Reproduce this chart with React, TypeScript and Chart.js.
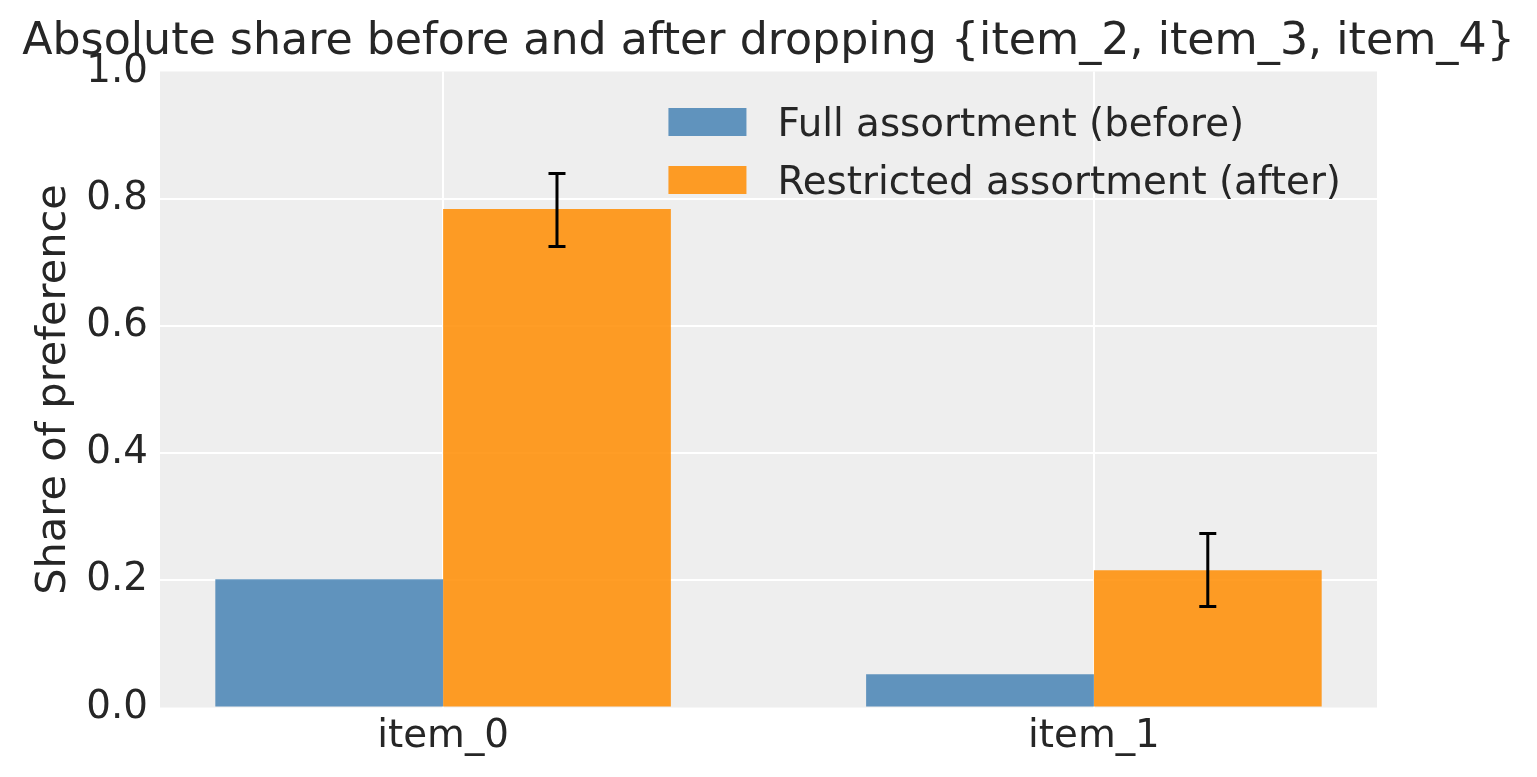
import React, { useEffect, useRef } from 'react';
import { Chart, registerables } from 'chart.js';

Chart.register(...registerables);

const titleText = 'Absolute share before and after dropping {item_2, item_3, item_4}';
const yAxisTitle = 'Share of preference';
const categories = ['item_0', 'item_1'];
const categoryPositions = [0, 1];
const seriesNames = ['Full assortment (before)', 'Restricted assortment (after)'];
const beforeShare = [0.2017, 0.0524];
const afterShare = [0.7837, 0.2159];
const afterLow = [0.7248, 0.1588];
const afterHigh = [0.8396, 0.2736];
const yTicks = [0, 0.2, 0.4, 0.6, 0.8, 1.0];
const xRange = [-0.435, 1.435];

const FONT = "'DejaVu Sans', sans-serif";
const TEXT = '#262626';
const BLUE = 'rgba(70,130,180,0.85)';
const ORANGE = 'rgba(255,140,0,0.85)';

const backgroundPlugin = {
  id: 'plotBg',
  beforeDraw(chart: any) {
    const { ctx, chartArea } = chart;
    ctx.save();
    ctx.fillStyle = '#eeeeee';
    ctx.fillRect(chartArea.left, chartArea.top, chartArea.right - chartArea.left, chartArea.bottom - chartArea.top);
    ctx.restore();
  },
};

const titlePlugin = {
  id: 'axesTitle',
  afterDraw(chart: any) {
    const { ctx, chartArea } = chart;
    ctx.save();
    ctx.font = `44.3px ${FONT}`;
    ctx.fillStyle = TEXT;
    ctx.textAlign = 'center';
    ctx.textBaseline = 'alphabetic';
    ctx.fillText(titleText, (chartArea.left + chartArea.right) / 2, chartArea.top - 17.2);
    ctx.restore();
  },
};

const errorBarPlugin = {
  id: 'errorBars',
  afterDatasetsDraw(chart: any) {
    const { ctx } = chart;
    const meta = chart.getDatasetMeta(1);
    const yScale = chart.scales.y;
    ctx.save();
    ctx.strokeStyle = '#000000';
    ctx.lineWidth = 3;
    meta.data.forEach((bar: any, i: number) => {
      const x = bar.x;
      const yLo = yScale.getPixelForValue(afterLow[i]);
      const yHi = yScale.getPixelForValue(afterHigh[i]);
      ctx.beginPath();
      ctx.moveTo(x, yLo);
      ctx.lineTo(x, yHi);
      ctx.moveTo(x - 8.5, yLo);
      ctx.lineTo(x + 8.5, yLo);
      ctx.moveTo(x - 8.5, yHi);
      ctx.lineTo(x + 8.5, yHi);
      ctx.stroke();
    });
    ctx.restore();
  },
};

const legendPlugin = {
  id: 'innerLegend',
  afterDraw(chart: any) {
    const { ctx, chartArea } = chart;
    ctx.save();
    ctx.font = `38.8px ${FONT}`;
    const widths = seriesNames.map((s) => ctx.measureText(s).width);
    const maxW = Math.max(...widths);
    const textX = chartArea.right - 36 - maxW;
    const patchW = 78;
    const patchH = 28;
    const patchX = textX - 31 - patchW;
    const colors = [BLUE, ORANGE];
    seriesNames.forEach((name, i) => {
      const top = chartArea.top + 36.5 + i * 58;
      ctx.fillStyle = colors[i];
      ctx.fillRect(patchX, top, patchW, patchH);
      ctx.fillStyle = TEXT;
      ctx.textAlign = 'left';
      ctx.textBaseline = 'alphabetic';
      ctx.fillText(name, textX, top + 27.5);
    });
    ctx.restore();
  },
};

export default function App() {
  const canvasRef = useRef<HTMLCanvasElement | null>(null);

  useEffect(() => {
    document.body.style.margin = '0';
    const canvas = canvasRef.current;
    if (!canvas) return;
    const chart = new Chart(canvas, {
      type: 'bar',
      data: {
        datasets: [
          {
            label: seriesNames[0],
            data: categoryPositions.map((x, i) => ({ x, y: beforeShare[i] })),
            backgroundColor: BLUE,
            borderWidth: 0,
          },
          {
            label: seriesNames[1],
            data: categoryPositions.map((x, i) => ({ x, y: afterShare[i] })),
            backgroundColor: ORANGE,
            borderWidth: 0,
          },
        ],
      },
      options: {
        animation: false,
        responsive: false,
        maintainAspectRatio: false,
        devicePixelRatio: 1,
        layout: { padding: { left: 0, right: 160, top: 71.5, bottom: 0 } },
        datasets: {
          bar: { categoryPercentage: 0.7, barPercentage: 1.0, grouped: true },
        },
        plugins: {
          legend: { display: false },
          tooltip: { enabled: false },
          title: { display: false },
        },
        scales: {
          x: {
            type: 'linear',
            min: xRange[0],
            max: xRange[1],
            offset: false,
            afterBuildTicks: (scale: any) => {
              scale.ticks = categoryPositions.map((v) => ({ value: v }));
            },
            afterFit: (scale: any) => {
              scale.height = 69.5;
            },
            ticks: {
              color: TEXT,
              font: { family: FONT, size: 38.8 },
              padding: 6,
              maxRotation: 0,
              autoSkip: false,
              callback: (value: any) => {
                const idx = categoryPositions.indexOf(Number(value));
                return idx >= 0 ? categories[idx] : '';
              },
            },
            grid: { color: '#ffffff', lineWidth: 2, drawTicks: false, offset: false },
            border: { display: false },
          },
          y: {
            type: 'linear',
            min: 0,
            max: 1,
            afterBuildTicks: (scale: any) => {
              scale.ticks = yTicks.map((v) => ({ value: v }));
            },
            afterFit: (scale: any) => {
              scale.width = 160;
            },
            ticks: {
              color: TEXT,
              font: { family: FONT, size: 38.8 },
              padding: 12,
              callback: (value: any) => Number(value).toFixed(1),
            },
            grid: {
              color: (c: any) => (c.tick && (c.tick.value === 1 || c.tick.value === 0) ? 'rgba(0,0,0,0)' : '#ffffff'),
              lineWidth: 2,
              drawTicks: false,
            },
            border: { display: false },
            title: {
              display: true,
              text: yAxisTitle,
              color: TEXT,
              font: { family: FONT, size: 41.5, weight: 'normal', lineHeight: 1.2 },
              padding: { top: 29, bottom: 0 },
            },
          },
        },
      },
      plugins: [backgroundPlugin, errorBarPlugin, legendPlugin, titlePlugin],
    });
    return () => chart.destroy();
  }, []);

  return (
    <div style={{ width: 1537, height: 777, background: '#ffffff' }}>
      <canvas ref={canvasRef} width={1537} height={777} style={{ display: 'block', width: 1537, height: 777 }} />
    </div>
  );
}
